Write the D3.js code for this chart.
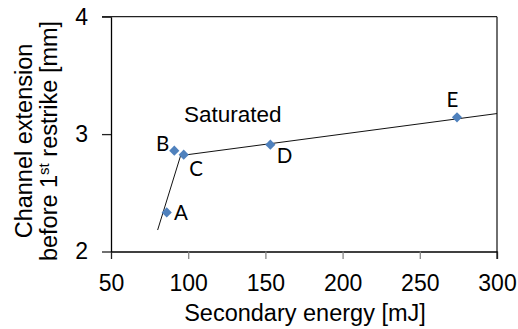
<!DOCTYPE html>
<html><head><meta charset="utf-8">
<script src="https://cdn.jsdelivr.net/npm/d3@7/dist/d3.min.js"></script>
<style>body{margin:0;background:#fff}svg{display:block}</style>
</head><body>
<svg id="c" width="518" height="329"></svg>
<script>
// data
const labels = ["A", "B", "C", "D", "E"];
const energy = [86.1, 91.0, 97.1, 153.2, 274.1];
const extension = [2.333, 2.859, 2.825, 2.91, 3.143];
const fitX = [80.2, 95.1, 300];
const fitY = [2.183, 2.817, 3.175];
const xTicks = [50, 100, 150, 200, 250, 300];
const yTicks = [2, 3, 4];
const annotation = "Saturated";

const svg = d3.select("#c");
const L = 111, R = 497, T = 16.7, B = 251.5;
const x = d3.scaleLinear().domain([50, 300]).range([L, R]);
const y = d3.scaleLinear().domain([2, 4]).range([B, T]);
const font = "'Liberation Sans', Arial, sans-serif";

// frame top/right
svg.append("line").attr("x1", L - 9).attr("x2", R).attr("y1", y(4)).attr("y2", y(4)).attr("stroke", "#222").attr("stroke-width", 1.3);
svg.append("line").attr("x1", R).attr("x2", R).attr("y1", T).attr("y2", B + 7.5).attr("stroke", "#222").attr("stroke-width", 1.3);

// x axis
const xa = svg.append("g").attr("transform", `translate(0,${B})`)
  .call(d3.axisBottom(x).tickValues(xTicks).tickFormat(d3.format("d")).tickSize(7.5).tickPadding(16).tickSizeOuter(0));
xa.attr("font-family", font).attr("font-size", 23);
xa.select(".domain").attr("stroke", "#000").attr("stroke-width", 1.3);
xa.selectAll(".tick line").attr("stroke", "#888").attr("stroke-width", 1.3);
xa.selectAll(".tick").filter(d => d === 50 || d === 300).select("line").attr("stroke", "#222");
xa.selectAll("text").attr("fill", "#000");

// y axis
const ya = svg.append("g").attr("transform", `translate(${L},0)`)
  .call(d3.axisLeft(y).tickValues(yTicks).tickFormat(d3.format("d")).tickSize(9).tickPadding(14).tickSizeOuter(0));
ya.attr("font-family", font).attr("font-size", 23);
ya.select(".domain").attr("stroke", "#000").attr("stroke-width", 1.3);
ya.selectAll(".tick line").attr("stroke", "#222").attr("stroke-width", 1.3);
ya.selectAll("text").attr("fill", "#000");

// axis titles
svg.append("text").attr("x", (L + R) / 2 + 1).attr("y", 321).attr("text-anchor", "middle")
  .attr("font-family", font).attr("font-size", 23.5).text("Secondary energy [mJ]");
svg.append("text").attr("transform", `translate(32,141) rotate(-90)`).attr("text-anchor", "middle")
  .attr("font-family", font).attr("font-size", 23.5).text("Channel extension");
const yt2 = svg.append("text").attr("transform", `translate(56.5,141) rotate(-90)`).attr("text-anchor", "middle")
  .attr("font-family", font).attr("font-size", 23.5);
yt2.append("tspan").text("before 1");
yt2.append("tspan").attr("font-size", 15).attr("dy", -8).text("st");
yt2.append("tspan").attr("dy", 8).text(" restrike [mm]");

// fit lines
const fit = fitX.map((v, i) => [v, fitY[i]]);
svg.append("path").datum(fit)
  .attr("d", d3.line().x(d => x(d[0])).y(d => y(d[1])))
  .attr("fill", "none").attr("stroke", "#111").attr("stroke-width", 1);

// markers
const pts = labels.map((l, i) => ({l, e: energy[i], v: extension[i]}));
const sym = d3.symbol().type(d3.symbolDiamond2).size(66);
svg.selectAll(".m").data(pts).join("path")
  .attr("transform", d => `translate(${x(d.e)},${y(d.v)})`)
  .attr("d", sym).attr("fill", "#4f81bd");

// point labels
const off = {A: [7.3, 8, "start"], B: [-5, 0, "end"], C: [5.6, 21.7, "start"], D: [6.4, 18, "start"], E: [-4.7, -10, "middle"]};
svg.selectAll(".pl").data(pts).join("text")
  .attr("x", d => x(d.e) + off[d.l][0]).attr("y", d => y(d.v) + off[d.l][1])
  .attr("text-anchor", d => off[d.l][2])
  .attr("font-family", "Lato, 'Open Sans', sans-serif").attr("font-size", 20.5).attr("fill", "#000")
  .text(d => d.l);

svg.append("text").attr("x", 184).attr("y", 121.5).attr("font-family", font).attr("font-size", 22.5)
  .text(annotation);
</script>
</body></html>
